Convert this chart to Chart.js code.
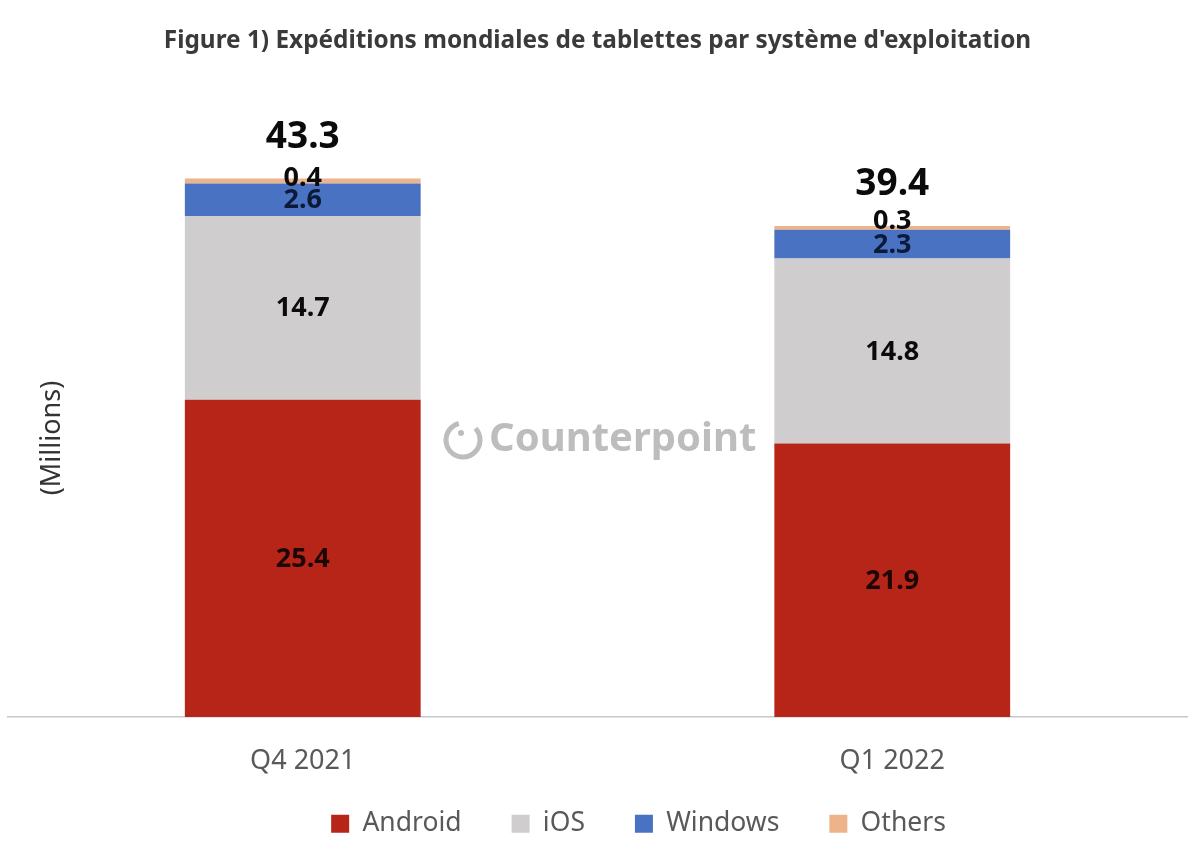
<!DOCTYPE html>
<html lang="fr">
<head>
<meta charset="utf-8">
<title>Expéditions mondiales de tablettes</title>
<script src="https://cdn.jsdelivr.net/npm/chart.js@4/dist/chart.umd.min.js"></script>
<style>
  html, body { margin: 0; background: #fff; }
  canvas { display: block; }
</style>
</head>
<body>
<canvas id="tablet-chart" width="1200" height="861"></canvas>
<script>
const quarters = ['Q4 2021', 'Q1 2022'];
const android = [25.4, 21.9];
const ios = [14.7, 14.8];
const windows = [2.6, 2.3];
const others = [0.4, 0.3];
const totals = [43.3, 39.4];

const FONT = '"Noto Sans", sans-serif';

// labels sit slightly off the segment centre in the original
function labelShift(dsIndex, i) {
  if (dsIndex === 3) return i === 0 ? -3 : -7;
  return 1;
}

const barLabels = {
  id: 'barLabels',
  afterDatasetsDraw(chart) {
    const ctx = chart.ctx;
    ctx.save();
    ctx.textAlign = 'center';
    ctx.textBaseline = 'middle';
    ctx.font = 'bold 27px ' + FONT;
    chart.data.datasets.forEach((ds, d) => {
      chart.getDatasetMeta(d).data.forEach((bar, i) => {
        ctx.fillStyle = d === 2 ? '#0c1a3a' : d === 0 ? '#1c0705' : '#0b0b0b';
        ctx.fillText(ds.data[i].toFixed(1), bar.x, (bar.y + bar.base) / 2 + labelShift(d, i));
      });
    });
    ctx.fillStyle = '#0b0b0b';
    ctx.font = 'bold 37px ' + FONT;
    chart.getDatasetMeta(3).data.forEach((bar, i) => {
      ctx.fillText(totals[i].toFixed(1), bar.x, bar.y - 41);
    });
    ctx.restore();
  }
};

const extras = {
  id: 'extras',
  afterLayout(chart) {
    // legend is off centre and tucked up under the ticks in the original
    chart.legend.left += 41;
    chart.legend.right += 41;
    chart.legend.top -= 37;
    chart.legend.bottom -= 37;
  },
  beforeDatasetsDraw(chart) {
    const ctx = chart.ctx;
    ctx.save();
    // y axis caption
    ctx.translate(52, 438);
    ctx.rotate(-Math.PI / 2);
    ctx.textAlign = 'center';
    ctx.textBaseline = 'middle';
    ctx.fillStyle = '#333333';
    ctx.font = '27px ' + FONT;
    ctx.fillText('(Millions)', 0, 0);
    ctx.restore();

    // watermark
    ctx.save();
    ctx.strokeStyle = '#bdbdbd';
    ctx.fillStyle = '#bdbdbd';
    ctx.lineWidth = 5;
    ctx.beginPath();
    ctx.arc(463, 440, 17, -0.75, 1.5 * Math.PI - 0.25);
    ctx.stroke();
    ctx.beginPath();
    ctx.arc(461, 433, 3, 0, 2 * Math.PI);
    ctx.fill();
    ctx.textAlign = 'left';
    ctx.textBaseline = 'middle';
    ctx.font = 'bold 40px ' + FONT;
    ctx.fillText('Counterpoint', 489, 440);
    ctx.restore();
  }
};

new Chart(document.getElementById('tablet-chart'), {
  type: 'bar',
  data: {
    labels: quarters,
    datasets: [
      { label: 'Android', data: android, backgroundColor: '#B72518' },
      { label: 'iOS', data: ios, backgroundColor: '#CFCDCE' },
      { label: 'Windows', data: windows, backgroundColor: '#4A72C2' },
      { label: 'Others', data: others, backgroundColor: '#EDB48C' }
    ]
  },
  plugins: [extras, barLabels],
  options: {
    responsive: false,
    animation: false,
    layout: { padding: { left: 8, right: 13, top: 0, bottom: -23 } },
    datasets: { bar: { barPercentage: 0.4, categoryPercentage: 1 } },
    scales: {
      x: {
        stacked: true,
        grid: { display: false },
        border: { color: '#c8c8c8', width: 1.5 },
        ticks: { color: '#595959', font: { family: FONT, size: 27 }, padding: 20 }
      },
      y: { stacked: true, display: false, min: 0, max: 50 }
    },
    plugins: {
      title: {
        display: true,
        text: "Figure 1) Expéditions mondiales de tablettes par système d'exploitation",
        color: '#3a3a3a',
        font: { family: FONT, size: 24.35, weight: 'bold' },
        padding: { top: 26, bottom: 37 }
      },
      legend: {
        position: 'bottom',
        labels: {
          color: '#595959',
          font: { family: FONT, size: 26.5 },
          boxWidth: 18,
          boxHeight: 18,
          padding: 50
        }
      },
      tooltip: { enabled: false }
    }
  }
});
</script>
</body>
</html>
